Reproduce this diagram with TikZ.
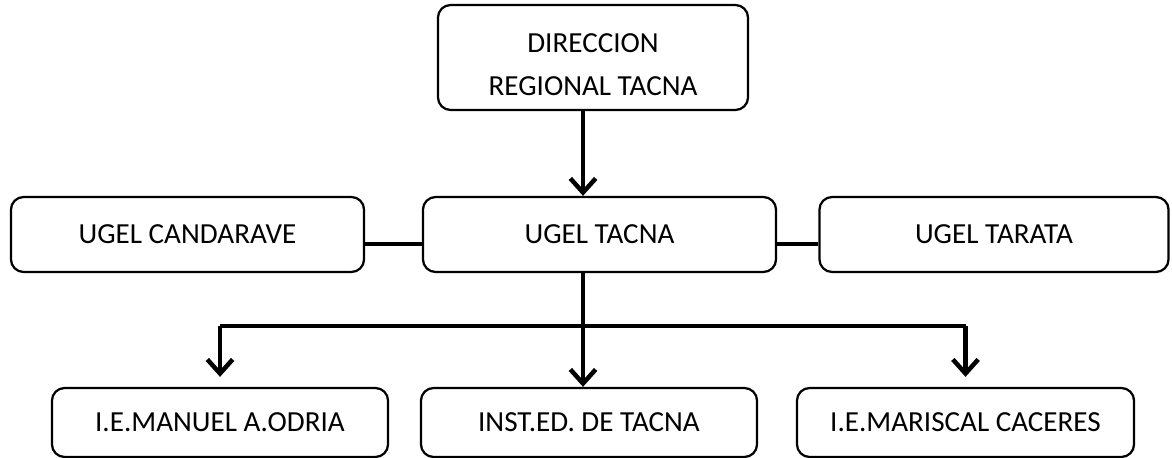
\documentclass[tikz,border=0pt]{standalone}
\usepackage{fontspec}
\setmainfont{Carlito}
\usetikzlibrary{arrows.meta}

\tikzset{
  box/.style={draw, line width=1.6pt, rounded corners=9pt, align=center,
    inner sep=0pt, font=\fontsize{20.7}{30.6}\selectfont},
  link/.style={line width=3.4pt},
  arr/.style={line width=3.4pt, -{Straight Barb[length=10pt, width=18pt, line width=3.2pt]}}
}

\begin{document}
\begin{tikzpicture}[x=0.025cm, y=-0.025cm]
\useasboundingbox (0,0) rectangle (1172,458);

% --- Regional office ---
\node[box, minimum width=7.75cm, minimum height=2.625cm] (dir) at (593,57.5)
  {\raisebox{-0.2cm}[\height][\depth]{\begin{tabular}{@{}c@{}}DIRECCION\\REGIONAL TACNA\end{tabular}}};

% --- UGEL row ---
\node[box, minimum width=8.825cm, minimum height=1.875cm] (cand) at (187.5,234.5) {UGEL CANDARAVE};
\node[box, minimum width=8.825cm, minimum height=1.875cm] (tacna) at (599.5,234.5) {UGEL TACNA};
\node[box, minimum width=8.725cm, minimum height=1.875cm] (tarata) at (994,234.5) {UGEL TARATA};

% --- Schools ---
\node[box, minimum width=8.4cm, minimum height=1.725cm] (manuel) at (220,422.5) {I.E.MANUEL A.ODRIA};
\node[box, minimum width=8.4cm, minimum height=1.725cm] (inst) at (589,422.5) {INST.ED. DE TACNA};
\node[box, minimum width=8.425cm, minimum height=1.725cm] (maris) at (965.5,422.5) {I.E.MARISCAL CACERES};

% --- Connectors ---
\coordinate (spine) at (583,0);
\coordinate (bus) at (583,326);
\coordinate (side) at (0,244);

\draw[arr] (dir.south -| spine) -- (tacna.north -| spine);
\draw[link] (cand.east |- side) -- (tacna.west |- side);
\draw[link] (tacna.east |- side) -- (tarata.west |- side);

\draw[arr] (tacna.south -| spine) -- (inst.north -| spine);
\draw[link] (bus -| manuel) -- (bus -| maris);
\draw[arr, shorten >=0.25cm] (bus -| manuel) -- (manuel.north);
\draw[arr, shorten >=0.25cm] (bus -| maris) -- (maris.north);

\end{tikzpicture}
\end{document}
